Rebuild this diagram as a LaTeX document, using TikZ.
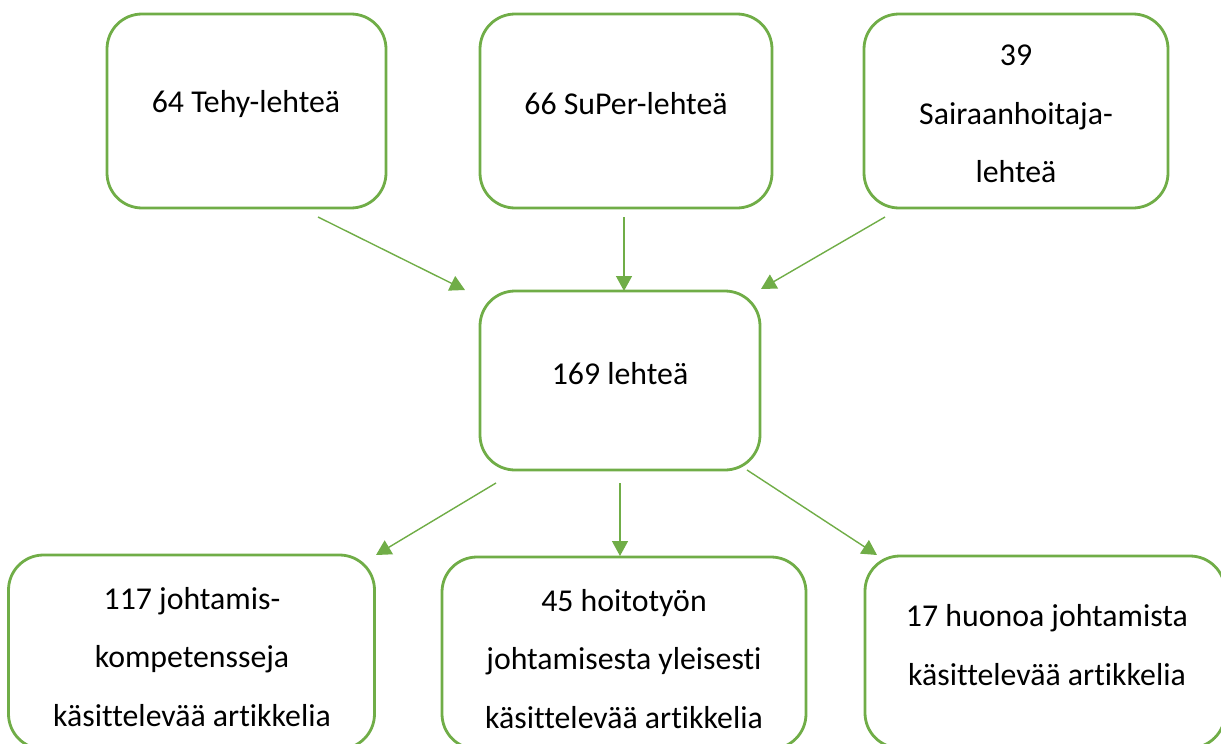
\documentclass[tikz,border=0pt]{standalone}
\usepackage{fontspec}
\setmainfont[RawFeature={-liga;-clig;-dlig}]{Carlito}
\usetikzlibrary{arrows.meta}
\definecolor{grn}{HTML}{70AD47}
\tikzset{
  box/.style={draw=grn, line width=2.8pt, rounded corners=35pt, rectangle, inner sep=0pt, outer sep=0pt, fill=white},
  txt/.style={align=center, inner sep=0pt, font=\fontsize{31.8}{58.5}\selectfont, text=black},
  conn/.style={draw=grn, line width=1.4pt, -{Triangle[length=15pt,width=16pt]}}
}
\begin{document}
\begin{tikzpicture}[x=1pt,y=-1pt]
\useasboundingbox (0,0) rectangle (1221,744);
\clip (0,0) rectangle (1221,744);
% boxes
\node[box, minimum width=279pt, minimum height=194pt] (b1) at (246.5,111) {};
\node[box, minimum width=292pt, minimum height=194pt] (b2) at (626,111) {};
\node[box, minimum width=304pt, minimum height=194pt] (b3) at (1016,111) {};
\node[box, minimum width=280pt, minimum height=179pt] (b4) at (620,380.5) {};
\node[box, minimum width=366pt, minimum height=194pt] (b5) at (191.5,652) {};
\node[box, minimum width=364pt, minimum height=192pt] (b6) at (624,653) {};
\node[box, minimum width=360pt, minimum height=192pt] (b7) at (1045,652) {};
% texts
\node[txt] (t1) at (246,104) {64 Tehy-lehteä};
\node[txt] (t2) at (626,104) {66 SuPer-lehteä};
\node[txt] (t3) at (1016,114) {39\\Sairaanhoitaja-\\lehteä};
\node[txt] (t4) at (620,374) {169 lehteä};
\node[txt] (t5) at (192,657) {117 johtamis-\\kompetensseja\\käsittelevää artikkelia};
\node[txt] (t6) at (624,659) {45 hoitotyön\\johtamisesta yleisesti\\käsittelevää artikkelia};
\node[txt] (t7) at (1047,645) {17 huonoa johtamista\\käsittelevää artikkelia};
% connector ends
\coordinate (s1) at (318,217);
\coordinate (e1) at (465,290);
\coordinate (s2) at (624,217);
\coordinate (e2) at (624,291);
\coordinate (s3) at (885,217);
\coordinate (e3) at (761,289);
\coordinate (s4) at (496,483);
\coordinate (e4) at (376,555);
\coordinate (s5) at (620,483);
\coordinate (e5) at (620,556);
\coordinate (s6) at (747,470);
\coordinate (e6) at (877,555);
\draw[conn] (s1) -- (e1);
\draw[conn] (s2) -- (e2);
\draw[conn] (s3) -- (e3);
\draw[conn] (s4) -- (e4);
\draw[conn] (s5) -- (e5);
\draw[conn] (s6) -- (e6);
\end{tikzpicture}
\end{document}
